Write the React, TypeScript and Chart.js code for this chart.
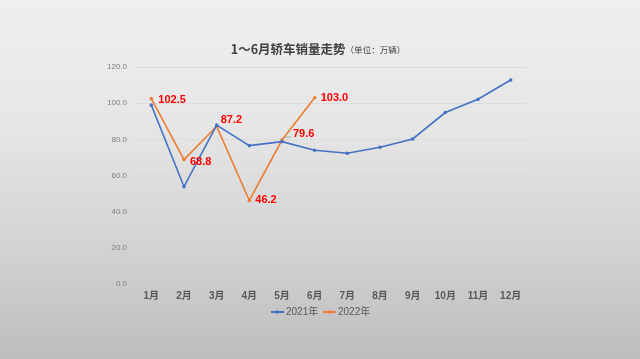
import React, { useEffect, useRef } from "react";
import { Chart, registerables } from "chart.js";

Chart.register(...registerables);

const categories = ["1月", "2月", "3月", "4月", "5月", "6月", "7月", "8月", "9月", "10月", "11月", "12月"];
const sales2021 = [98.9, 53.8, 87.9, 76.5, 78.7, 74.0, 72.3, 75.6, 80.2, 94.8, 102.2, 112.8];
const sales2022 = [102.5, 68.8, 87.2, 46.2, 79.6, 103.0];
const yTicks = [0, 20, 40, 60, 80, 100, 120];
const titleMain = "1～6月轿车销量走势";
const titleSub = "（单位：万辆）";
const seriesNames = ["2021年", "2022年"];

const FONT = "'Liberation Sans', 'Noto Sans CJK SC', sans-serif";
const BLUE = "#4472c4";
const ORANGE = "#ed7d31";

const labelOffsets: [number, number][] = [
  [7, 1],
  [6, 2],
  [4, -6],
  [6, 0],
  [11, -6],
  [6, 0],
];

const overlayPlugin = {
  id: "overlay",
  afterDatasetsDraw(chart: any) {
    const ctx = chart.ctx;
    ctx.save();
    const meta = chart.getDatasetMeta(1);
    ctx.font = `bold 11px ${FONT}`;
    ctx.fillStyle = "#ff0000";
    ctx.textBaseline = "middle";
    ctx.textAlign = "left";
    meta.data.forEach((pt: any, i: number) => {
      const [dx, dy] = labelOffsets[i] || [6, 0];
      if (i === 4) {
        ctx.strokeStyle = "#a6a6a6";
        ctx.lineWidth = 1;
        ctx.beginPath();
        ctx.moveTo(pt.x + 3, pt.y - 3);
        ctx.lineTo(pt.x + dx - 2, pt.y - 3);
        ctx.stroke();
      }
      ctx.fillText(sales2022[i].toFixed(1), pt.x + dx, pt.y + dy);
    });
    ctx.restore();
  },
  afterDraw(chart: any) {
    const ctx = chart.ctx;
    ctx.save();
    ctx.textBaseline = "middle";
    ctx.textAlign = "left";
    ctx.font = `bold 12.5px 'Noto Sans CJK SC', sans-serif`;
    const w1 = ctx.measureText(titleMain).width;
    ctx.font = `8.5px 'Noto Sans CJK SC', sans-serif`;
    const w2 = ctx.measureText(titleSub).width;
    const start = 318 - (w1 + w2) / 2;
    ctx.fillStyle = "#404040";
    ctx.font = `bold 12.5px 'Noto Sans CJK SC', sans-serif`;
    ctx.fillText(titleMain, start, 49);
    ctx.font = `8.5px 'Noto Sans CJK SC', sans-serif`;
    ctx.fillText(titleSub, start + w1, 50);
    const items = [
      { x: 271, color: BLUE, text: seriesNames[0] },
      { x: 323, color: ORANGE, text: seriesNames[1] },
    ];
    const ly = 312;
    items.forEach((it) => {
      ctx.strokeStyle = it.color;
      ctx.lineWidth = 2;
      ctx.beginPath();
      ctx.moveTo(it.x, ly);
      ctx.lineTo(it.x + 13, ly);
      ctx.stroke();
      ctx.fillStyle = it.color;
      ctx.beginPath();
      ctx.arc(it.x + 6.5, ly, 1.8, 0, Math.PI * 2);
      ctx.fill();
      ctx.fillStyle = "#595959";
      ctx.font = `10px ${FONT}`;
      ctx.fillText(it.text, it.x + 15, ly);
    });
    ctx.restore();
  },
};

export default function App() {
  const ref = useRef<HTMLCanvasElement | null>(null);
  useEffect(() => {
    if (!ref.current) return;
    const chart = new Chart(ref.current, {
      type: "line",
      data: {
        labels: categories,
        datasets: [
          {
            label: seriesNames[0],
            data: sales2021,
            borderColor: BLUE,
            backgroundColor: BLUE,
            borderWidth: 1.6,
            pointRadius: 1.8,
            pointBorderWidth: 0,
            tension: 0,
          },
          {
            label: seriesNames[1],
            data: sales2022,
            borderColor: ORANGE,
            backgroundColor: ORANGE,
            borderWidth: 1.6,
            pointRadius: 1.8,
            pointBorderWidth: 0,
            tension: 0,
          },
        ],
      },
      options: {
        animation: false,
        responsive: false,
        maintainAspectRatio: false,
        layout: { padding: { left: 0, right: 113, top: 67, bottom: 75 - 22 } },
        plugins: {
          legend: { display: false },
          title: { display: false },
          tooltip: { enabled: false },
        },
        scales: {
          x: {
            offset: true,
            grid: { display: false, drawTicks: false },
            border: { display: true, color: "#d0d0d0", width: 1 },
            ticks: {
              color: "#595959",
              font: { family: FONT, size: 10, weight: "bold" },
              padding: 6,
              maxRotation: 0,
              autoSkip: false,
            },
            afterFit(scale: any) {
              scale.height = 22;
            },
          },
          y: {
            min: 0,
            max: 120,
            afterBuildTicks(scale: any) {
              scale.ticks = yTicks.map((v) => ({ value: v }));
            },
            grid: { color: "#d9d9d9", lineWidth: 0.8, drawTicks: false },
            border: { display: false },
            ticks: {
              color: "#7f7f7f",
              font: { family: FONT, size: 8 },
              padding: 8,
              callback: (v: any) => Number(v).toFixed(1),
            },
            afterFit(scale: any) {
              scale.width = 135;
            },
          },
        },
      },
      plugins: [overlayPlugin],
    });
    return () => chart.destroy();
  }, []);
  return (
    <div
      style={{
        position: "fixed",
        left: 0,
        top: 0,
        width: 640,
        height: 359,
        background: "linear-gradient(to bottom, #efefef 0%, #e6e6e6 35%, #d2d2d2 70%, #bdbdbd 100%)",
      }}
    >
      <canvas ref={ref} width={640} height={359} style={{ display: "block" }} />
    </div>
  );
}
